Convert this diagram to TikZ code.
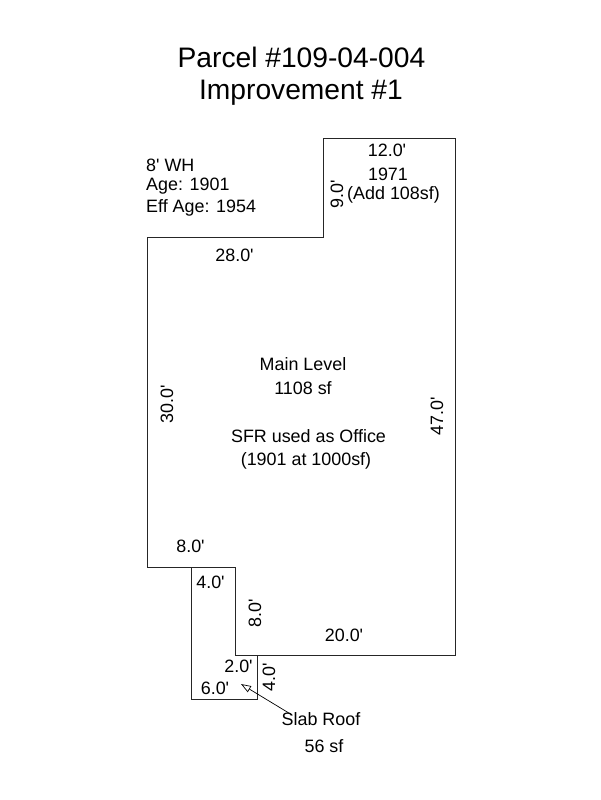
\documentclass[tikz,border=0pt]{standalone}
\usepackage{fontspec}
\setmainfont{Liberation Sans}
\usetikzlibrary{arrows.meta}
\newcommand{\ft}{\textquotesingle}
\tikzset{
  lbl/.style={inner sep=0pt, font=\fontsize{17.9}{20}\selectfont},
  dim/.style={lbl, rotate=90},
  ttl/.style={inner sep=0pt, font=\fontsize{28.2}{32}\selectfont},
  wall/.style={draw=black!85, line width=1pt},
}
\begin{document}
\begin{tikzpicture}[x=1pt, y=-1pt]
  \useasboundingbox (0,0) rectangle (600,800);

  % Title
  \node[ttl] (title) at (301.5,57.5) {Parcel \#109-04-004};
  \node[ttl] (improvement) at (301,92.5) {Improvement \#1};

  % Outline
  \draw[wall] (147.7,237.7) -- (323.2,237.7) -- (323.2,138.7) -- (455.7,138.7) -- (455.7,655.7)
    -- (235.7,655.7) -- (235.7,567.7) -- (147.7,567.7) -- cycle;
  % Slab roof
  \draw[wall] (191.7,567.7) -- (191.7,699.7) -- (257.7,699.7) -- (257.7,655.7);

  % Notes
  \node[lbl, anchor=west] (wh) at (146,165.5) {8\ft{} WH};
  \node[lbl, anchor=west] (age) at (146,186.5) {Age: 1901};
  \node[lbl, anchor=west] (effage) at (146,207.5) {Eff Age: 1954};

  % Addition
  \node[lbl] (topdim) at (387,150) {12.0\ft};
  \node[lbl] (year) at (388,174) {1971};
  \node[lbl] (add) at (393.5,195) {(Add 108sf)};
  \node[dim] (leftdim) at (337,194) {9.0\ft};
  \node[lbl] (stepdim) at (234.5,255) {28.0\ft};

  % Main level
  \node[lbl] (main) at (303,364) {Main Level};
  \node[lbl] (area) at (303,388) {1108 sf};
  \node[lbl] (use) at (308.5,436) {SFR used as Office};
  \node[lbl] (built) at (306,461) {(1901 at 1000sf)};
  \node[dim] (westdim) at (167,404) {30.0\ft};
  \node[dim] (eastdim) at (437,416) {47.0\ft};

  % Lower part
  \node[lbl] (notchdim) at (190.5,546) {8.0\ft};
  \node[lbl] (slabtop) at (210.5,582) {4.0\ft};
  \node[dim] (slabin) at (255,613) {8.0\ft};
  \node[lbl] (southdim) at (344,635) {20.0\ft};
  \node[lbl] (slabstep) at (238.5,666) {2.0\ft};
  \node[lbl] (slabbot) at (215,688) {6.0\ft};
  \node[dim] (slabeast) at (269,677) {4.0\ft};
  \node[lbl] (slab) at (321,719) {Slab Roof};
  \node[lbl] (slabarea) at (324,746) {56 sf};

  % Arrow
  \coordinate (slabtip) at (241,684);
  \draw[-{Triangle[open, length=10pt, width=7pt]}, line width=0.7pt]
    ([shift={(11,3)}]slab.north west) -- (slabtip);
\end{tikzpicture}
\end{document}
